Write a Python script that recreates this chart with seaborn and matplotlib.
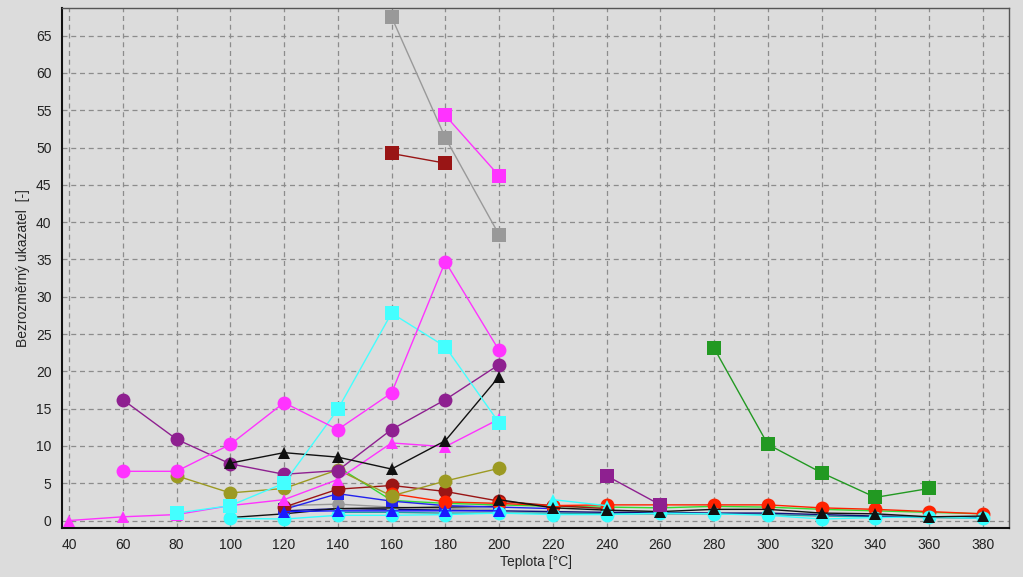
import numpy as np
import pandas as pd
import seaborn as sns
import matplotlib.pyplot as plt
import matplotlib.ticker as ticker

# --- data (x = temperature, y = dimensionless index) ---
gray_sq_x = [160, 180, 200]
gray_sq_y = [67.5, 51.3, 38.3]
mag_sq_x = [180, 200]
mag_sq_y = [54.3, 46.2]
darkred_sq_x = [160, 180]
darkred_sq_y = [49.2, 47.9]
mag_circ_x = [60, 80, 100, 120, 140, 160, 180, 200]
mag_circ_y = [6.6, 6.6, 10.2, 15.8, 12.2, 17.1, 34.7, 22.8]
cyan_sq_x = [80, 100, 120, 140, 160, 180, 200]
cyan_sq_y = [1.0, 2.0, 5.0, 14.9, 27.8, 23.3, 13.1]
purple_circ_x = [60, 80, 100, 120, 140, 160, 180, 200]
purple_circ_y = [16.2, 10.9, 7.6, 6.2, 6.7, 12.2, 16.2, 20.9]
black_tri_x = [100, 120, 140, 160, 180, 200]
black_tri_y = [7.7, 9.1, 8.5, 6.9, 10.7, 19.3]
mag_tri_x = [40, 60, 80, 100, 120, 140, 160, 180, 200]
mag_tri_y = [0.0, 0.5, 0.8, 2.0, 2.8, 5.5, 10.4, 9.9, 13.6]
olive_circ_x = [80, 100, 120, 140, 160, 180, 200]
olive_circ_y = [6.0, 3.7, 4.3, 6.8, 3.3, 5.3, 7.0]
green_sq_x = [280, 300, 320, 340, 360]
green_sq_y = [23.1, 10.2, 6.4, 3.1, 4.3]
purple_sq_x = [240, 260]
purple_sq_y = [6.0, 2.1]
lime_x = [140, 160, 180, 200, 220, 240, 260, 280, 300, 320, 340, 360, 380]
lime_y = [7.2, 2.7, 2.3, 2.1, 1.9, 1.8, 1.7, 1.9, 1.8, 1.5, 1.3, 1.1, 0.9]
darkred_circ_x = [120, 140, 160, 180, 200, 220, 240]
darkred_circ_y = [1.8, 4.2, 4.7, 3.9, 2.6, 2.0, 1.6]
red_circ_x = [160, 180, 200, 220, 240, 260, 280, 300, 320, 340, 360, 380]
red_circ_y = [3.6, 2.5, 2.3, 2.0, 2.1, 2.1, 2.1, 2.1, 1.7, 1.5, 1.2, 0.9]
blue_sq_x = [120, 140, 160, 180, 200, 220]
blue_sq_y = [1.5, 3.6, 2.6, 2.0, 1.8, 1.6]
gray_circ_x = [120, 140, 160, 180, 200]
gray_circ_y = [2.0, 2.2, 1.8, 1.6, 1.5]
navy_x = [120, 140, 160, 180, 200, 220, 240, 260, 280, 300, 320, 340, 360, 380]
navy_y = [1.3, 1.6, 1.5, 1.4, 1.3, 1.2, 1.1, 1.1, 1.0, 1.0, 0.8, 0.6, 0.5, 0.4]
teal_x = [140, 160, 180, 200, 220, 240, 260, 280, 300, 320, 340, 360, 380]
teal_y = [1.1, 1.1, 1.0, 1.0, 1.0, 0.9, 0.9, 0.9, 0.8, 0.6, 0.5, 0.4, 0.3]
blue_tri_x = [120, 140, 160, 180, 200]
blue_tri_y = [1.2, 1.3, 1.3, 1.3, 1.3]
black_line_x = [100, 120, 140, 160, 180, 200]
black_line_y = [0.4, 0.9, 1.6, 1.7, 1.8, 1.9]
black_tri2_x = [200, 220, 240, 260, 280, 300, 320, 340, 360, 380]
black_tri2_y = [2.8, 1.7, 1.4, 1.2, 1.5, 1.5, 1.0, 0.9, 0.5, 0.6]
cyan_tri_x = [220, 240]
cyan_tri_y = [2.8, 2.0]
cyan_circ_x = [100, 120, 140, 160, 180, 200, 220, 240, 260, 280, 300, 320, 340, 360, 380]
cyan_circ_y = [0.3, 0.2, 0.7, 0.7, 0.8, 1.0, 0.8, 0.8, 1.0, 0.9, 0.7, 0.2, 0.4, 0.5, 0.3]

# (x, y, colour, marker, marker size)
series = [
    (teal_x, teal_y, "#20a0a0", "", 0),
    (navy_x, navy_y, "#10107a", "", 0),
    (lime_x, lime_y, "#33dd33", "D", 0),
    (gray_circ_x, gray_circ_y, "#999999", "o", 9),
    (black_line_x, black_line_y, "#111111", "", 0),
    (blue_sq_x, blue_sq_y, "#2222ee", "s", 9),
    (darkred_circ_x, darkred_circ_y, "#991515", "o", 10),
    (red_circ_x, red_circ_y, "#ff2200", "o", 10),
    (cyan_circ_x, cyan_circ_y, "#33ffff", "o", 10),
    (cyan_tri_x, cyan_tri_y, "#33ffff", "^", 9),
    (black_tri2_x, black_tri2_y, "#111111", "^", 9),
    (blue_tri_x, blue_tri_y, "#1a1aff", "^", 9),
    (olive_circ_x, olive_circ_y, "#9c9a22", "o", 10),
    (mag_tri_x, mag_tri_y, "#ff33ff", "^", 9),
    (purple_circ_x, purple_circ_y, "#8e2090", "o", 10),
    (black_tri_x, black_tri_y, "#111111", "^", 9),
    (cyan_sq_x, cyan_sq_y, "#44ffff", "s", 10),
    (mag_circ_x, mag_circ_y, "#ff33ff", "o", 10),
    (purple_sq_x, purple_sq_y, "#8e2090", "s", 10),
    (green_sq_x, green_sq_y, "#229922", "s", 10),
    (darkred_sq_x, darkred_sq_y, "#991515", "s", 10),
    (mag_sq_x, mag_sq_y, "#ff33ff", "s", 10),
    (gray_sq_x, gray_sq_y, "#999999", "s", 10),
]

sns.set_style("white")
plt.rcParams['font.family'] = ['Liberation Sans', 'DejaVu Sans']

fig = plt.figure(figsize=(10.23, 5.77), dpi=100, facecolor="#dcdcdc")
ax = fig.add_axes([62 / 1023, 49 / 577, 947 / 1023, 520 / 577])
ax.set_facecolor("#dcdcdc")

for x, y, color, marker, ms in series:
    df = pd.DataFrame({"t": x, "v": y})
    sns.lineplot(data=df, x="t", y="v", ax=ax, color=color, linewidth=1,
                 marker=marker if marker else None, markersize=ms,
                 markeredgewidth=0, sort=False, zorder=3)

ax.set_xlim(37.4, 389.7)
ax.set_ylim(-1.0, 68.7)
ax.xaxis.set_major_locator(ticker.MultipleLocator(20))
ax.xaxis.set_minor_locator(ticker.MultipleLocator(5))
ax.yaxis.set_major_locator(ticker.MultipleLocator(5))
ax.yaxis.set_minor_locator(ticker.MultipleLocator(1))
ax.grid(True, which="major", color="#8c8c8c", linestyle=(0, (4, 3)), linewidth=0.9)
ax.tick_params(axis="both", which="major", direction="out", length=4, width=0.8,
               labelsize=10, colors="#222222")
ax.tick_params(axis="both", which="minor", direction="out", length=2, width=0.6,
               colors="#444444")

for side in ["left", "bottom"]:
    ax.spines[side].set_color("#111111")
    ax.spines[side].set_linewidth(1.5)
for side in ["top", "right"]:
    ax.spines[side].set_color("#555555")
    ax.spines[side].set_linewidth(1.0)

ax.set_xlabel("Teplota [°C]", fontsize=10, labelpad=2)
ax.set_ylabel("Bezrozměrný ukazatel  [-]", fontsize=10, labelpad=4)

fig.savefig("out.png", dpi=100, facecolor=fig.get_facecolor())
